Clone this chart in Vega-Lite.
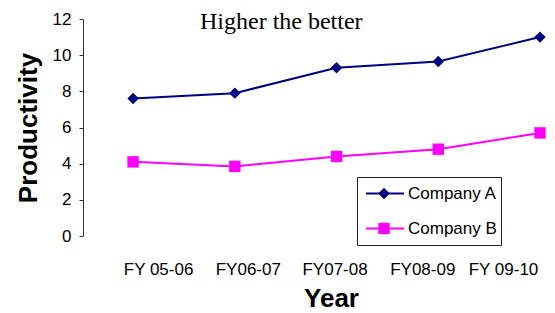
{
  "$schema": "https://vega.github.io/schema/vega-lite/v6.json",
  "width": 470,
  "height": 217,
  "autosize": {"type": "none"},
  "padding": {"left": 83, "top": 19, "right": 2, "bottom": 77},
  "background": "white",
  "config": {"view": {"stroke": null}, "font": "Liberation Sans"},
  "title": {
    "text": "Higher the better",
    "font": "Liberation Serif",
    "fontSize": 24,
    "fontWeight": "normal",
    "color": "black",
    "anchor": "start",
    "frame": "group",
    "baseline": "alphabetic",
    "offset": 0,
    "dx": 117,
    "dy": 43
  },
  "data": {
    "values": [
      {"year": "FY 05-06", "company": "Company A", "value": 7.6},
      {"year": "FY06-07", "company": "Company A", "value": 7.9},
      {"year": "FY07-08", "company": "Company A", "value": 9.3},
      {"year": "FY08-09", "company": "Company A", "value": 9.65},
      {"year": "FY 09-10", "company": "Company A", "value": 11.0},
      {"year": "FY 05-06", "company": "Company B", "value": 4.1},
      {"year": "FY06-07", "company": "Company B", "value": 3.85},
      {"year": "FY07-08", "company": "Company B", "value": 4.4},
      {"year": "FY08-09", "company": "Company B", "value": 4.8},
      {"year": "FY 09-10", "company": "Company B", "value": 5.7}
    ]
  },
  "encoding": {
    "x": {
      "field": "year",
      "type": "ordinal",
      "sort": null,
      "scale": {"type": "point", "padding": 0.31, "align": 0.794},
      "axis": {
        "title": "Year",
        "titleFont": "Liberation Sans",
        "titleFontSize": 26,
        "titleFontWeight": "bold",
        "titleColor": "black",
        "titlePadding": 8,
        "titleX": 248,
        "domain": false,
        "ticks": false,
        "tickSize": 0,
        "labelAngle": 0,
        "labelFontSize": 17,
        "labelColor": "black",
        "labelPadding": 25,
        "labelOffset": {"expr": "datum.value == 'FY 05-06' ? 25 : datum.value == 'FY06-07' ? 13 : datum.value == 'FY07-08' ? -2 : datum.value == 'FY08-09' ? -16 : -37"}
      }
    },
    "y": {
      "field": "value",
      "type": "quantitative",
      "scale": {"domain": [0, 12], "nice": false},
      "axis": {
        "title": "Productivity",
        "titleFont": "Liberation Sans",
        "titleFontSize": 26,
        "titleFontWeight": "bold",
        "titleColor": "black",
        "titlePadding": 11,
        "values": [0, 2, 4, 6, 8, 10, 12],
        "grid": false,
        "domainColor": "#333333",
        "tickColor": "#333333",
        "tickSize": 4,
        "labelFontSize": 17,
        "labelColor": "black",
        "labelPadding": 8
      }
    }
  },
  "layer": [
    {
      "mark": {"type": "line", "strokeWidth": 2},
      "encoding": {
        "stroke": {
          "field": "company",
          "type": "nominal",
          "scale": {"domain": ["Company A", "Company B"], "range": ["#000080", "#FF00FF"]},
          "legend": {
            "title": null,
            "orient": "none",
            "legendX": 274,
            "legendY": 158,
            "padding": 4,
            "strokeColor": "#222222",
            "labelFont": "Liberation Sans",
            "labelFontSize": 17,
            "labelColor": "black",
            "labelOffset": 3,
            "symbolOffset": 4,
            "clipHeight": 25,
            "rowPadding": 10,
            "symbolType": "stroke",
            "symbolSize": 1444,
            "symbolStrokeWidth": 2
          }
        }
      }
    },
    {
      "mark": {"type": "point", "filled": true, "size": 130, "opacity": 1, "strokeWidth": 0},
      "encoding": {
        "color": {
          "field": "company",
          "type": "nominal",
          "scale": {"range": ["#000080", "#FF00FF"]},
          "legend": {
            "title": null,
            "orient": "none",
            "legendX": 274,
            "legendY": 158,
            "padding": 4,
            "labelExpr": "''",
            "symbolOffset": 17,
            "clipHeight": 25,
            "rowPadding": 10,
            "symbolSize": 130,
            "symbolStrokeWidth": 0,
            "symbolOpacity": 1
          }
        },
        "shape": {
          "field": "company",
          "type": "nominal",
          "scale": {"range": ["diamond", "square"]},
          "legend": {
            "title": null,
            "orient": "none",
            "legendX": 274,
            "legendY": 158,
            "padding": 4,
            "labelExpr": "''",
            "symbolOffset": 17,
            "clipHeight": 25,
            "rowPadding": 10,
            "symbolSize": 130,
            "symbolStrokeWidth": 0,
            "symbolOpacity": 1
          }
        }
      }
    }
  ]
}
